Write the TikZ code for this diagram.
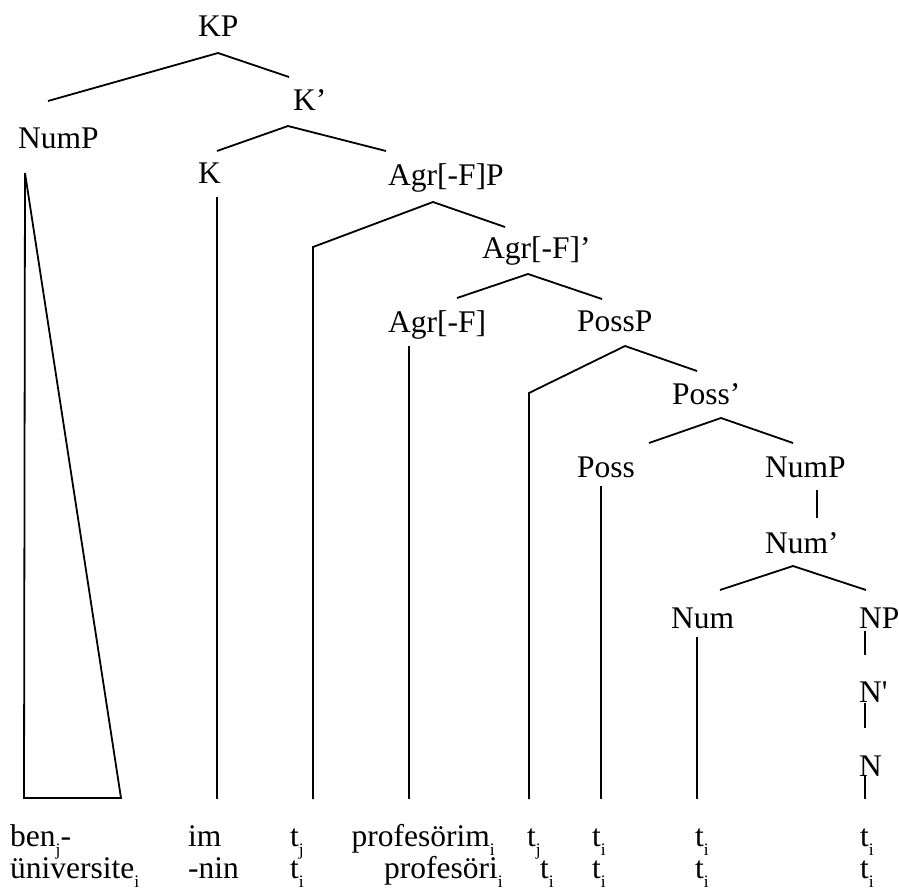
\documentclass[tikz,border=0pt]{standalone}
\usepackage{fontspec}
\setmainfont{Liberation Serif}
\newcommand{\sbs}[1]{\raisebox{-9pt}{\fontsize{17.5}{17.5}\selectfont #1}}
\begin{document}
\begin{tikzpicture}[x=1pt,y=-1pt,
  lbl/.style={inner sep=0pt, anchor=base west, font=\fontsize{31.5}{31.5}\selectfont},
  lble/.style={lbl, anchor=base east},
  br/.style={line width=1.8pt, line join=miter}]
\useasboundingbox (0,0) rectangle (899,892);
% labels
\node[lbl] (KP) at (198,36) {KP};
\node[lbl] (Kbar) at (293,110) {K’};
\node[lbl] (NumP1) at (18,148) {NumP};
\node[lbl] (K) at (198,183) {K};
\node[lbl] (AgrP) at (388,185) {Agr[-F]P};
\node[lbl] (Agrbar) at (482,258) {Agr[-F]’};
\node[lbl] (Agr) at (388,332) {Agr[-F]};
\node[lbl] (PossP) at (577,331) {PossP};
\node[lbl] (Possbar) at (672,404) {Poss’};
\node[lbl] (Poss) at (577,477) {Poss};
\node[lbl] (NumP2) at (765,477) {NumP};
\node[lbl] (Numbar) at (765,553) {Num’};
\node[lbl] (Num) at (671,628) {Num};
\node[lbl] (NP) at (859,628) {NP};
\node[lbl] (Nbar) at (859,702) {N\textquotesingle};
\node[lbl] (N) at (859,776) {N};
% bottom rows
\node[lbl] (w1a) at (10,846) {ben\sbs{j}-};
\node[lbl] (w2a) at (188,846) {im};
\node[lbl] (w3a) at (290,846) {t\sbs{j}};
\node[lble] (w4a) at (495,846) {profesörim\sbs{i}};
\node[lbl] (w5a) at (527,846) {t\sbs{j}};
\node[lbl] (w6a) at (592,846) {t\sbs{i}};
\node[lbl] (w7a) at (695,846) {t\sbs{i}};
\node[lbl] (w8a) at (860,846) {t\sbs{i}};
\node[lbl] (w1b) at (10,878) {üniversite\sbs{i}};
\node[lbl] (w2b) at (188,878) {-nin};
\node[lbl] (w3b) at (290,878) {t\sbs{i}};
\node[lble] (w4b) at (503,878) {profesöri\sbs{i}};
\node[lbl] (w5b) at (540,878) {t\sbs{i}};
\node[lbl] (w6b) at (592,878) {t\sbs{i}};
\node[lbl] (w7b) at (695,878) {t\sbs{i}};
\node[lbl] (w8b) at (860,878) {t\sbs{i}};
% branch points
\coordinate (KPa) at (218,53);
\coordinate (KPl) at (48,101);
\coordinate (KPr) at (289,77);
\coordinate (Ka) at (288,126);
\coordinate (Kl) at (217,151);
\coordinate (Kr) at (386,151);
\coordinate (Kt) at (217,197);
\coordinate (Kb) at (217,799);
\coordinate (Ta) at (25,173);
\coordinate (Tl) at (24,798);
\coordinate (Tr) at (121,798);
\coordinate (APa) at (433,202);
\coordinate (APl) at (313,247);
\coordinate (APb) at (313,799);
\coordinate (APr) at (505,227);
\coordinate (Aba) at (528,274);
\coordinate (Abl) at (457,298);
\coordinate (Abr) at (602,299);
\coordinate (At) at (409,346);
\coordinate (Ab) at (409,799);
\coordinate (PPa) at (625,346);
\coordinate (PPl) at (529,393);
\coordinate (PPb) at (529,799);
\coordinate (PPr) at (697,371);
\coordinate (Pba) at (721,418);
\coordinate (Pbl) at (649,443);
\coordinate (Pbr) at (793,443);
\coordinate (Pt) at (601,486);
\coordinate (Pb) at (601,799);
\coordinate (NPt) at (817,490);
\coordinate (NPb) at (817,518);
\coordinate (Nba) at (793,566);
\coordinate (Nbl) at (720,590);
\coordinate (Nbr) at (866,590);
\coordinate (Nt) at (697,637);
\coordinate (Nb) at (697,799);
\coordinate (NPa) at (865,631);
\coordinate (NPc) at (865,655);
\coordinate (Nbt) at (865,703);
\coordinate (Nbb) at (865,728);
\coordinate (Ntt) at (865,776);
\coordinate (Ntb) at (865,799);
% branches
\draw[br] (KPl) -- (KPa) -- (KPr);
\draw[br] (Kl) -- (Ka) -- (Kr);
\draw[br] (Kt) -- (Kb);
\draw[br] (Ta) -- (Tl) -- (Tr) -- cycle;
\draw[br] (APb) -- (APl) -- (APa) -- (APr);
\draw[br] (Abl) -- (Aba) -- (Abr);
\draw[br] (At) -- (Ab);
\draw[br] (PPb) -- (PPl) -- (PPa) -- (PPr);
\draw[br] (Pbl) -- (Pba) -- (Pbr);
\draw[br] (Pt) -- (Pb);
\draw[br] (NPt) -- (NPb);
\draw[br] (Nbl) -- (Nba) -- (Nbr);
\draw[br] (Nt) -- (Nb);
\draw[br] (NPa) -- (NPc);
\draw[br] (Nbt) -- (Nbb);
\draw[br] (Ntt) -- (Ntb);
\end{tikzpicture}
\end{document}
